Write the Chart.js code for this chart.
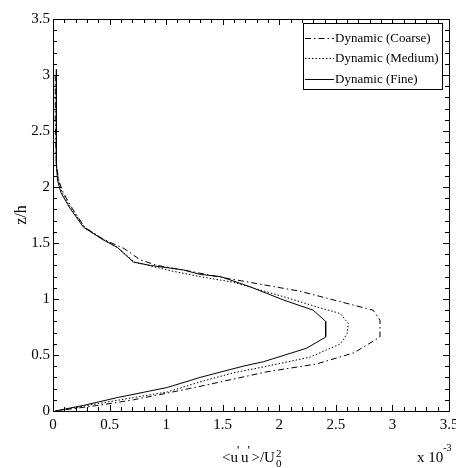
<!DOCTYPE html>
<html>
<head>
<meta charset="utf-8">
<script src="https://cdn.jsdelivr.net/npm/chart.js@4/dist/chart.umd.min.js"></script>
<style>
  html, body { margin: 0; padding: 0; background: #fff; }
  canvas { display: block; }
</style>
</head>
<body>
<canvas id="profile" width="456" height="468"></canvas>
<script>
// profils verticaux de <u'u'>/U0^2 (x 10^-3) en fonction de z/h
const coarseZ = [3.0, 2.6, 2.2, 2.06, 1.95, 1.81, 1.64, 1.53, 1.45, 1.35, 1.30, 1.25, 1.20, 1.17, 1.07, 0.90, 0.81, 0.66, 0.52, 0.42, 0.35, 0.22, 0.16, 0.10, 0.05, 0];
const coarseU = [0.02, 0.02, 0.03, 0.05, 0.09, 0.17, 0.28, 0.45, 0.63, 0.77, 0.92, 1.20, 1.45, 1.62, 2.18, 2.83, 2.89, 2.89, 2.66, 2.33, 1.89, 1.30, 1.01, 0.71, 0.40, 0.02];

const mediumZ = [3.0, 2.6, 2.2, 2.06, 1.95, 1.81, 1.64, 1.53, 1.46, 1.33, 1.29, 1.25, 1.20, 1.15, 1.02, 0.93, 0.87, 0.78, 0.69, 0.60, 0.48, 0.40, 0.34, 0.26, 0.17, 0.12, 0.07, 0];
const mediumU = [0.03, 0.03, 0.03, 0.05, 0.08, 0.16, 0.28, 0.45, 0.57, 0.72, 0.88, 1.05, 1.30, 1.59, 2.04, 2.33, 2.54, 2.61, 2.60, 2.54, 2.27, 1.89, 1.59, 1.30, 1.01, 0.71, 0.42, 0.02];

const fineZ = [3.05, 2.6, 2.2, 2.06, 1.95, 1.81, 1.64, 1.53, 1.46, 1.33, 1.30, 1.26, 1.22, 1.20, 1.11, 0.99, 0.90, 0.80, 0.66, 0.56, 0.44, 0.40, 0.30, 0.21, 0.12, 0.05, 0];
const fineU = [0.03, 0.03, 0.03, 0.04, 0.07, 0.15, 0.27, 0.44, 0.57, 0.71, 0.86, 1.15, 1.30, 1.48, 1.74, 2.04, 2.30, 2.41, 2.41, 2.24, 1.86, 1.68, 1.30, 1.01, 0.57, 0.27, 0.02];

const seriesLabels = ['Dynamic (Coarse)', 'Dynamic (Medium)', 'Dynamic (Fine)'];
const xTickLabels = ['0', '0.5', '1', '1.5', '2', '2.5', '3', '3.5'];
const yTickLabels = ['0', '0.5', '1', '1.5', '2', '2.5', '3', '3.5'];

const FONT = "'Liberation Serif', 'DejaVu Serif', serif";

function toPoints(us, zs) {
  return us.map((u, i) => ({ x: u, y: zs[i] }));
}

// cadre + petites graduations vers l'interieur, sur les 4 cotes
const boxTicks = {
  id: 'boxTicks',
  afterDatasetsDraw(chart) {
    const { ctx, chartArea: a, scales } = chart;
    ctx.save();
    ctx.strokeStyle = '#000';
    ctx.lineWidth = 1;
    ctx.beginPath();
    for (let i = 0; i <= 35; i++) {
      const v = i / 10;
      const len = i % 5 === 0 ? 6 : 4;
      const px = Math.round(scales.x.getPixelForValue(v)) + 0.5;
      const py = Math.round(scales.y.getPixelForValue(v)) + 0.5;
      ctx.moveTo(px, a.bottom); ctx.lineTo(px, a.bottom - len);
      ctx.moveTo(px, a.top); ctx.lineTo(px, a.top + len);
      ctx.moveTo(a.left, py); ctx.lineTo(a.left + len, py);
      ctx.moveTo(a.right, py); ctx.lineTo(a.right - len, py);
    }
    ctx.stroke();
    ctx.strokeRect(Math.round(a.left) + 0.5, Math.round(a.top) + 0.5,
      Math.round(a.right - a.left), Math.round(a.bottom - a.top));
    ctx.restore();
  }
};

// legende dans le coin haut droit
const boxLegend = {
  id: 'boxLegend',
  afterDraw(chart) {
    const { ctx, chartArea: a } = chart;
    const left = a.right - 146, top = a.top + 4, w = 139, h = 66;
    ctx.save();
    ctx.fillStyle = '#fff';
    ctx.fillRect(left, top, w, h);
    ctx.strokeStyle = '#000';
    ctx.lineWidth = 1;
    ctx.strokeRect(left + 0.5, top + 0.5, w, h);
    ctx.font = '13px ' + FONT;
    ctx.textBaseline = 'middle';
    ctx.fillStyle = '#000';
    chart.data.datasets.forEach((ds, i) => {
      const y = top + 14.5 + i * 20.5;
      ctx.setLineDash(ds.borderDash || []);
      ctx.beginPath();
      ctx.moveTo(left + 2, Math.round(y) + 0.5);
      ctx.lineTo(left + 31, Math.round(y) + 0.5);
      ctx.stroke();
      ctx.setLineDash([]);
      ctx.fillText(ds.label, left + 32, y + 1);
    });
    ctx.restore();
  }
};

// titre de l'axe x : <u'u'>/U0^2 et le facteur x 10^-3
const xAxisText = {
  id: 'xAxisText',
  afterDraw(chart) {
    const { ctx } = chart;
    ctx.save();
    ctx.fillStyle = '#000';
    ctx.textBaseline = 'alphabetic';
    const base = 462;
    let x = 222;
    const big = '15px ' + FONT, small = '11px ' + FONT;
    const parts = ['<u', "'", 'u', "'", '>/U'];
    parts.forEach((p) => {
      if (p === "'") {
        ctx.font = '13px ' + FONT;
        ctx.fillText("'", x - 1, base - 8);
        x += 3;
      } else {
        ctx.font = big;
        ctx.fillText(p, x, base);
        x += ctx.measureText(p).width;
      }
    });
    ctx.font = small;
    ctx.fillText('2', x + 1, base - 5);
    ctx.fillText('0', x + 1, base + 5);

    ctx.font = big;
    ctx.fillText('x 10', 417, base);
    const w = ctx.measureText('x 10').width;
    ctx.font = '10px ' + FONT;
    ctx.fillText('-3', 417 + w, base - 11);
    ctx.restore();
  }
};

new Chart(document.getElementById('profile'), {
  type: 'scatter',
  data: {
    datasets: [
      {
        label: seriesLabels[0],
        data: toPoints(coarseU, coarseZ),
        borderDash: [6, 3, 1.5, 3],
      },
      {
        label: seriesLabels[1],
        data: toPoints(mediumU, mediumZ),
        borderDash: [1.5, 2],
      },
      {
        label: seriesLabels[2],
        data: toPoints(fineU, fineZ),
      },
    ].map((ds) => ({
      ...ds,
      showLine: true,
      borderColor: '#000',
      borderWidth: 1,
      pointRadius: 0,
      tension: 0,
    })),
  },
  options: {
    responsive: false,
    animation: false,
    layout: { padding: { top: 19, right: 7, left: 0, bottom: 0 } },
    plugins: { legend: { display: false }, tooltip: { enabled: false } },
    scales: {
      x: {
        type: 'linear',
        min: 0,
        max: 3.5,
        grid: { display: false, drawTicks: false },
        border: { display: false },
        ticks: {
          stepSize: 0.5,
          autoSkip: false,
          maxRotation: 0,
          padding: 5,
          color: '#000',
          font: { family: FONT, size: 15 },
          callback: (v, i) => xTickLabels[i],
        },
        afterFit: (s) => {
          s.height = 57;
          s.paddingLeft = 0;
          s.paddingRight = 0;
        },
      },
      y: {
        type: 'linear',
        min: 0,
        max: 3.5,
        grid: { display: false, drawTicks: false },
        border: { display: false },
        title: {
          display: true,
          text: 'z/h',
          color: '#000',
          font: { family: FONT, size: 16 },
          padding: { top: 12, bottom: 0 },
        },
        ticks: {
          stepSize: 0.5,
          autoSkip: false,
          padding: 3,
          color: '#000',
          font: { family: FONT, size: 15 },
          callback: (v, i) => yTickLabels[i],
        },
        afterFit: (s) => {
          s.width = 53;
          s.paddingTop = 0;
          s.paddingBottom = 0;
        },
      },
    },
  },
  plugins: [boxTicks, boxLegend, xAxisText],
});
</script>
</body>
</html>
